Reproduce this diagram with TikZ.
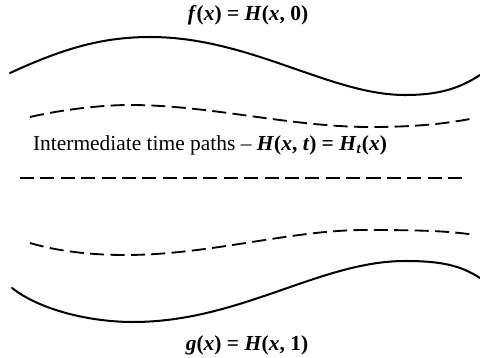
\documentclass[tikz,border=0pt]{standalone}
\usepackage{fontspec}
\setmainfont{Liberation Serif}
\usepackage{tikz}

\newcommand{\vx}{\textit{x}}

\begin{document}
\begin{tikzpicture}[
    x=0.02cm, y=-0.02cm,
    boundary/.style={line width=1.15pt, line cap=round},
    midpath/.style={line width=1.05pt, dash pattern=on 8pt off 3.6pt},
    lbl/.style={font=\fontsize{12.2}{14}\selectfont, inner sep=1pt},
]
\useasboundingbox (0,0) rectangle (480,358);

% Labels
\node[lbl] (flabel) at (248,15) {\textbf{\textit{f}(\vx) = \textit{H}(\vx, 0)}};
\node[lbl] (midlabel) at (210,145) {Intermediate time paths -- \textbf{\textit{H}(\vx, \textit{t}) = \textit{H}\textsubscript{\textit{t}}(\vx)}};
\node[lbl] (glabel) at (247,345) {\textbf{\textit{g}(\vx) = \textit{H}(\vx, 1)}};

% f(x): path at t = 0
\draw[boundary] (10,73) .. controls (60,50) and (100,37) .. (150,37)
    .. controls (250,37) and (330,95) .. (405,95)
    .. controls (440,95) and (460,88) .. (480,75);

% Intermediate paths (dashed)
\draw[midpath] (30,117) .. controls (60,110) and (100,105) .. (130,105)
    .. controls (210,105) and (290,127) .. (370,127)
    .. controls (420,127) and (450,123) .. (475,118);
\draw[midpath] (20,178) -- (465,178);
\draw[midpath] (30,243) .. controls (60,252) and (95,255) .. (125,255)
    .. controls (210,255) and (290,230) .. (365,230)
    .. controls (420,230) and (450,231) .. (475,235);

% g(x): path at t = 1
\draw[boundary] (12,288) .. controls (40,310) and (90,322) .. (133,322)
    .. controls (240,322) and (320,261) .. (405,261)
    .. controls (440,261) and (460,265) .. (480,278);
\end{tikzpicture}
\end{document}
